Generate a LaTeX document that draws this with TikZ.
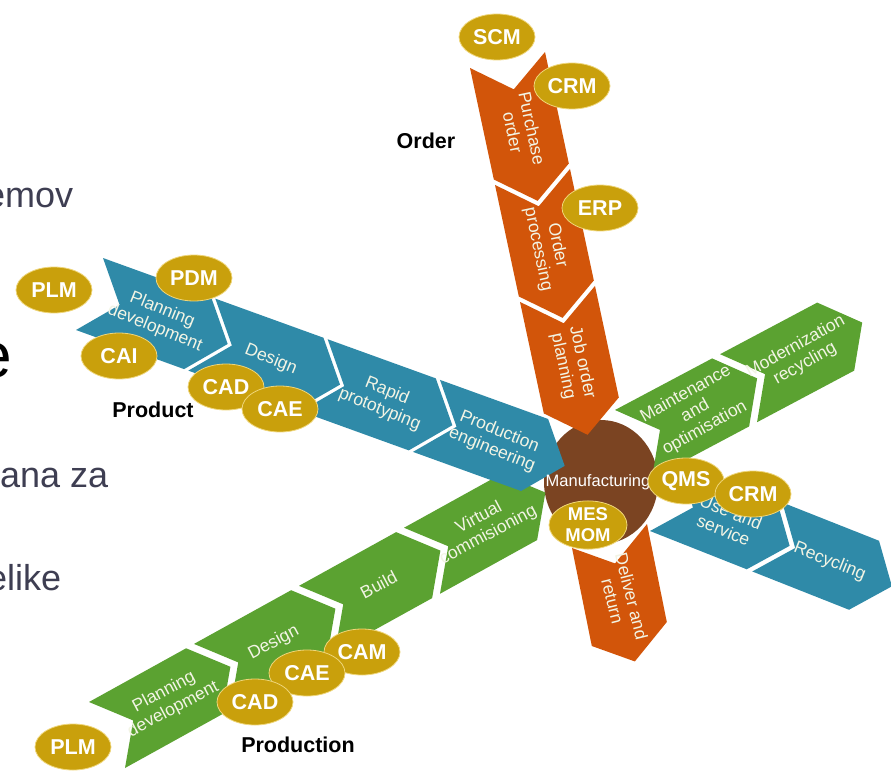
\documentclass[tikz,border=0pt]{standalone}
\usepackage{fontspec}
\setmainfont{Liberation Sans}
\usetikzlibrary{shapes.geometric}
\definecolor{cblue}{HTML}{2F8AA8}
\definecolor{corange}{HTML}{D2550A}
\definecolor{cgreen}{HTML}{5BA231}
\definecolor{cbrown}{HTML}{7B4422}
\definecolor{cgold}{HTML}{C9A00C}
\definecolor{cgoldline}{HTML}{EFD67A}
\definecolor{ctext}{HTML}{F2F4E4}
\definecolor{cslate}{HTML}{3E3E52}
\newcommand\setstrip[7]{\def\sOx{#1}\def\sOy{#2}\def\sax{#3}\def\say{#4}\def\scx{#5}\def\scy{#6}\def\stt{#7}}
\newcommand\chev[4]{%
 \pgfmathsetmacro\Ax{\sOx+(#1)*(\sax)}\pgfmathsetmacro\Ay{\sOy+(#1)*(\say)}%
 \pgfmathsetmacro\Bx{\Ax+(#2)*(\sax)}\pgfmathsetmacro\By{\Ay+(#2)*(\say)}%
 \pgfmathsetmacro\Tx{\Bx+0.5*(\scx)+(\stt)*(\sax)}\pgfmathsetmacro\Ty{\By+0.5*(\scy)+(\stt)*(\say)}%
 \pgfmathsetmacro\Cx{\Bx+(\scx)}\pgfmathsetmacro\Cy{\By+(\scy)}%
 \pgfmathsetmacro\Dx{\Ax+(\scx)}\pgfmathsetmacro\Dy{\Ay+(\scy)}%
 \pgfmathsetmacro\Nx{\Ax+0.5*(\scx)+(\stt)*(\sax)}\pgfmathsetmacro\Ny{\Ay+0.5*(\scy)+(\stt)*(\say)}%
 \pgfmathsetmacro\Mx{\Ax+0.5*(\scx)+0.5*((#2)+(\stt))*(\sax)}\pgfmathsetmacro\My{\Ay+0.5*(\scy)+0.5*((#2)+(\stt))*(\say)}%
 \fill[#3] (\Ax,\Ay) -- (\Bx,\By) -- (\Tx,\Ty) -- (\Cx,\Cy) -- (\Dx,\Dy) -- (\Nx,\Ny) -- cycle;
 \coordinate (#4) at (\Mx,\My);}
\begin{document}
\begin{tikzpicture}[x=1pt,y=-1pt,
  chevtext/.style={text=ctext,font=\fontsize{17.5}{19.5}\selectfont,align=center,inner sep=0pt},
  tool/.style={ellipse,fill=cgold,draw=cgoldline,line width=0.8pt,minimum width=76pt,minimum height=46pt,inner sep=0pt,text=white,font=\bfseries\fontsize{21.5}{24}\selectfont},
  phase/.style={font=\bfseries\fontsize{21.5}{24}\selectfont,text=black,inner sep=0pt},
  frag/.style={font=\fontsize{36}{40}\selectfont,text=cslate,anchor=base west,inner sep=0pt}]
\useasboundingbox (0,0) rectangle (891,773);
\fill[white] (0,0) rectangle (891,773);

% left slide fragments
\node[frag] (f1) at (-15,207) {emov};
\node[frag,text=black,font=\fontsize{64}{70}\selectfont] (f2) at (-24,377) {e};
\node[frag] (f3) at (0,487) {ana za};
\node[frag] (f4) at (-13,590) {elike};

% hub
\fill[cbrown] (601,482) ellipse [x radius=57, y radius=62];

% Production chain (green, lower left)
\setstrip{89}{702}{0.875}{-0.484}{36}{66}{30}
\chev{0}{111}{cgreen}{g1}
\chev{120}{111}{cgreen}{g2}
\chev{240}{111}{cgreen}{g3}
\chev{360}{111}{cgreen}{g4}

% Product chain (blue)
\setstrip{103}{258}{0.940}{0.340}{-27}{72}{32}
\chev{0}{115}{cblue}{b1}
\chev{119.5}{115}{cblue}{b2}
\chev{239}{115}{cblue}{b3}
\chev{358.5}{115}{cblue}{b4}

% Order chain (orange)
\setstrip{470}{68}{0.209}{0.978}{75}{-16}{30}
\chev{0}{114}{corange}{o1}
\chev{119.6}{114}{corange}{o2}
\chev{239.2}{114}{corange}{o3}

% Maintenance chain (green, upper right)
\setstrip{615}{410}{0.883}{-0.469}{37}{68}{30}
\chev{0}{110}{cgreen}{m1}
\chev{119}{110}{cgreen}{m2}

% Use chain (blue, lower right)
\setstrip{680}{462}{0.930}{0.368}{-30}{69}{30}
\chev{0}{104}{cblue}{u1}
\chev{110}{104}{cblue}{u2}

% Deliver (orange)
\setstrip{572}{548}{0.198}{0.980}{75}{-24}{28}
\chev{0}{100}{corange}{d1}

% chevron texts
\node[chevtext,rotate=28] (tg1) at (g1) {Planning\\development};
\node[chevtext,rotate=28] (tg2) at (g2) {Design};
\node[chevtext,rotate=28] (tg3) at (g3) {Build};
\node[chevtext,rotate=28] (tg4) at (g4) {Virtual\\commisioning};
\node[chevtext,rotate=-22] (tb1) at (b1) {Planning\\development};
\node[chevtext,rotate=-22] (tb2) at (b2) {Design};
\node[chevtext,rotate=-22] (tb3) at (b3) {Rapid\\prototyping};
\node[chevtext,rotate=-22] (tb4) at (b4) {Production\\engineering};
\node[chevtext,rotate=-78] (to1) at (o1) {Purchase\\order};
\node[chevtext,rotate=-78] (to2) at (o2) {Order\\processing};
\node[chevtext,rotate=-78] (to3) at (o3) {Job order\\planning};
\node[chevtext,rotate=29] (tm1) at (m1) {Maintenance\\and\\optimisation};
\node[chevtext,rotate=29] (tm2) at (m2) {Modernization\\recycling};
\node[chevtext,rotate=-22] (tu1) at (u1) {Use and\\service};
\node[chevtext,rotate=-22] (tu2) at (u2) {Recycling};
\node[chevtext,rotate=-76] (td1) at (d1) {Deliver and\\return};
\node[chevtext,text=white,font=\fontsize{16.5}{19}\selectfont] (hub) at (598,482) {Manufacturing};

% tools
\node[tool] (scm) at (497,37) {SCM};
\node[tool] (crm1) at (572,86) {CRM};
\node[tool] (erp) at (600,208) {ERP};
\node[tool] (plm1) at (54,290) {PLM};
\node[tool] (pdm) at (194,278) {PDM};
\node[tool] (cai) at (119,356) {CAI};
\node[tool] (cad1) at (226,387) {CAD};
\node[tool] (cae1) at (280,409) {CAE};
\node[tool] (qms) at (686,481) {QMS};
\node[tool] (crm2) at (753,494) {CRM};
\node[tool,align=center,font=\bfseries\fontsize{18.5}{21}\selectfont,minimum width=78pt] (mes) at (588,525) {MES\\MOM};
\node[tool] (cam) at (362,652) {CAM};
\node[tool] (cae2) at (307,673) {CAE};
\node[tool] (cad2) at (255,702) {CAD};
\node[tool] (plm2) at (73,747) {PLM};

% phase labels
\node[phase] (lorder) at (426,141) {Order};
\node[phase] (lproduct) at (153,410) {Product};
\node[phase] (lproduction) at (298,745) {Production};
\end{tikzpicture}
\end{document}
